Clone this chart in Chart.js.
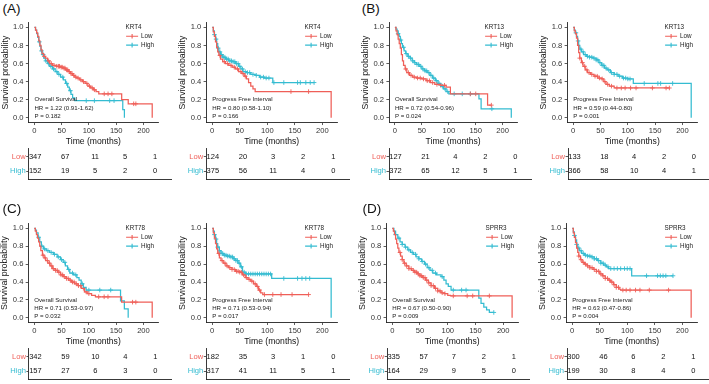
<!DOCTYPE html>
<html><head><meta charset="utf-8">
<script src="https://cdn.jsdelivr.net/npm/chart.js@4/dist/chart.umd.min.js"></script>
<style>
html,body{margin:0;padding:0;background:#fff;}
#wrap{position:relative;width:709px;height:384px;overflow:hidden;background:#fff;}
canvas{position:absolute;}
.lab{position:absolute;font-family:'Liberation Sans',Arial,sans-serif;font-size:13.5px;color:#111;line-height:1;white-space:nowrap;}
</style></head><body><div id="wrap"></div>
<script>
const FONT = "'Liberation Sans', Arial, sans-serif";
const RED = '#EF5F58', CYAN = '#34BCD1';

// ---------- shared axis / label data ----------
const timeTicks = [0, 50, 100, 150, 200];
const probTicks = [0, 0.2, 0.4, 0.6, 0.8, 1.0];
const groups = ['Low', 'High'];
const genes = ['KRT4', 'KRT13', 'KRT78', 'SPRR3'];
const letters = ['(A)', '(B)', '(C)', '(D)'];
const endpoints = ['Overall Survival', 'Progress Free Interval'];

// ---------- KM curves: [time (months), survival] at each step ----------
const A_OS_low = [[0,1],[2,0.97],[4,0.94],[6,0.9],[8,0.85],[10,0.8],[12,0.75],[14,0.71],[17,0.68],[20,0.66],[24,0.63],[28,0.6],[33,0.58],[40,0.57],[47,0.56],[52,0.55],[57,0.53],[62,0.51],[66,0.49],[70,0.47],[74,0.45],[78,0.44],[83,0.42],[88,0.4],[93,0.38],[98,0.35],[103,0.33],[108,0.31],[113,0.29],[118,0.265],[160,0.2],[172,0.155],[216,0]];
const A_OS_high = [[0,1],[2,0.97],[4,0.93],[6,0.89],[8,0.84],[10,0.79],[12,0.74],[14,0.7],[17,0.66],[20,0.63],[24,0.6],[28,0.57],[33,0.54],[38,0.51],[43,0.48],[48,0.45],[53,0.42],[57,0.38],[61,0.34],[64,0.3],[67,0.26],[70,0.22],[74,0.19],[162,0.09],[165,0]];
const A_PFI_low = [[0,1],[2,0.95],[4,0.9],[6,0.84],[8,0.78],[10,0.73],[12,0.69],[15,0.65],[19,0.62],[24,0.6],[30,0.58],[36,0.56],[42,0.54],[48,0.51],[54,0.49],[58,0.46],[62,0.43],[66,0.39],[70,0.35],[74,0.32],[78,0.29],[216,0]];
const A_PFI_high = [[0,1],[2,0.96],[4,0.92],[6,0.87],[8,0.82],[10,0.77],[12,0.73],[15,0.7],[19,0.67],[24,0.65],[30,0.63],[36,0.62],[42,0.6],[48,0.57],[52,0.54],[56,0.51],[62,0.5],[70,0.48],[78,0.47],[86,0.45],[95,0.44],[110,0.39],[185,0.39]];
const B_OS_low = [[0,1],[2,0.96],[4,0.92],[6,0.87],[8,0.82],[10,0.77],[12,0.7],[14,0.63],[16,0.58],[19,0.54],[22,0.5],[27,0.47],[33,0.45],[40,0.44],[50,0.43],[58,0.41],[66,0.39],[74,0.37],[85,0.36],[95,0.34],[103,0.265],[172,0.14],[179,0.14]];
const B_OS_high = [[0,1],[2,0.98],[4,0.96],[6,0.93],[8,0.9],[10,0.86],[12,0.82],[14,0.78],[17,0.74],[20,0.71],[24,0.68],[28,0.66],[32,0.63],[36,0.61],[40,0.59],[45,0.57],[50,0.54],[55,0.52],[60,0.5],[65,0.47],[70,0.44],[75,0.41],[80,0.38],[85,0.35],[90,0.32],[95,0.29],[100,0.265],[156,0.21],[160,0.1],[216,0]];
const B_PFI_low = [[0,1],[2,0.96],[4,0.93],[6,0.88],[8,0.8],[10,0.72],[12,0.66],[15,0.61],[18,0.57],[22,0.53],[26,0.5],[32,0.48],[38,0.46],[45,0.44],[52,0.43],[56,0.4],[60,0.37],[66,0.35],[75,0.33],[176,0.33]];
const B_PFI_high = [[0,1],[2,0.97],[4,0.94],[6,0.9],[8,0.85],[10,0.8],[12,0.76],[15,0.73],[19,0.7],[24,0.68],[30,0.67],[36,0.66],[42,0.64],[47,0.61],[52,0.58],[57,0.55],[62,0.53],[68,0.5],[75,0.48],[82,0.46],[90,0.44],[100,0.43],[110,0.38],[216,0]];
const C_OS_low = [[0,1],[2,0.97],[4,0.93],[6,0.89],[8,0.85],[10,0.8],[12,0.75],[15,0.7],[18,0.67],[21,0.64],[25,0.61],[29,0.58],[33,0.55],[38,0.53],[43,0.51],[48,0.48],[53,0.46],[58,0.44],[63,0.42],[68,0.4],[74,0.38],[80,0.36],[86,0.33],[92,0.29],[97,0.27],[105,0.25],[112,0.235],[160,0.175],[216,0]];
const C_OS_high = [[0,1],[2,0.98],[4,0.95],[7,0.9],[10,0.85],[13,0.8],[17,0.77],[22,0.75],[28,0.73],[35,0.71],[42,0.68],[48,0.65],[53,0.62],[57,0.58],[61,0.54],[65,0.5],[72,0.48],[78,0.45],[82,0.42],[86,0.38],[90,0.34],[95,0.31],[158,0.19],[165,0.1],[172,0]];
const C_PFI_low = [[0,1],[2,0.95],[4,0.89],[6,0.83],[8,0.77],[10,0.72],[13,0.67],[16,0.64],[20,0.61],[25,0.58],[30,0.56],[36,0.54],[42,0.52],[50,0.51],[55,0.48],[60,0.45],[65,0.43],[70,0.41],[75,0.38],[80,0.35],[84,0.31],[88,0.28],[92,0.26],[175,0.26]];
const C_PFI_high = [[0,1],[2,0.97],[4,0.93],[6,0.88],[8,0.83],[10,0.79],[13,0.75],[16,0.72],[20,0.7],[26,0.69],[32,0.68],[38,0.66],[43,0.64],[47,0.61],[51,0.57],[55,0.51],[60,0.49],[108,0.44],[216,0]];
const D_OS_low = [[0,1],[2,0.97],[4,0.93],[6,0.88],[8,0.83],[10,0.78],[12,0.73],[15,0.69],[18,0.65],[21,0.61],[25,0.58],[30,0.55],[35,0.53],[40,0.51],[45,0.49],[50,0.47],[55,0.45],[60,0.42],[65,0.39],[70,0.36],[76,0.33],[82,0.3],[88,0.28],[94,0.27],[100,0.25],[105,0.245],[216,0]];
const D_OS_high = [[0,1],[3,0.97],[6,0.93],[10,0.89],[14,0.85],[18,0.82],[23,0.79],[28,0.76],[33,0.73],[38,0.71],[43,0.68],[48,0.66],[53,0.63],[58,0.6],[63,0.56],[68,0.53],[73,0.5],[80,0.48],[88,0.46],[93,0.42],[97,0.38],[101,0.35],[106,0.31],[156,0.22],[160,0.16],[165,0.12],[170,0.09],[175,0.06],[183,0.06]];
const D_PFI_low = [[0,1],[2,0.95],[4,0.9],[6,0.84],[8,0.78],[10,0.73],[12,0.69],[15,0.65],[18,0.62],[22,0.6],[27,0.58],[32,0.56],[38,0.54],[44,0.52],[50,0.49],[55,0.47],[60,0.44],[65,0.42],[70,0.4],[75,0.37],[80,0.34],[85,0.32],[88,0.31],[216,0]];
const D_PFI_high = [[0,1],[2,0.96],[4,0.92],[6,0.87],[8,0.82],[10,0.78],[13,0.75],[17,0.72],[22,0.7],[28,0.69],[34,0.68],[40,0.66],[46,0.64],[52,0.61],[57,0.59],[62,0.57],[66,0.55],[108,0.47],[183,0.47]];

// ---------- censoring times (months) ----------
const A_OS_lowCens = [18,26,31,36,41,44,46,49,51,54,56,59,61,64,67,69,72,76,80,85,90,96,101,106,110,128,135,142,182,186];
const A_OS_highCens = [9,13,16,21,26,30,35,41,45,52,59,66,95,110,138,146];
const A_PFI_lowCens = [14,22,28,34,40,46,52,56,60,143,175];
const A_PFI_highCens = [4,7,11,14,17,20,23,26,29,32,35,38,41,44,47,50,55,60,64,68,74,80,88,93,98,103,112,130,155,160,170,178,185];
const B_OS_lowCens = [20,25,30,36,42,47,53,60,64,70,78,85,92,140,150,179];
const B_OS_highCens = [6,11,16,21,25,29,33,37,41,44,48,52,56,59,63,67,72,77,82,88,93,98,110,125,140,180];
const B_PFI_lowCens = [12,17,21,25,29,34,40,44,48,53,58,63,70,80,88,95,105,115,145,170,176];
const B_PFI_highCens = [5,9,14,18,22,26,30,34,38,42,45,49,53,56,60,65,70,75,80,85,92,96,100,104,130,155,160,182];
const C_OS_lowCens = [16,20,24,28,32,35,39,42,45,49,52,55,59,62,66,70,73,77,81,85,90,95,100,118,128,135,180,186];
const C_OS_highCens = [8,14,19,25,31,37,44,50,56,63,70,76,88,100,120,140];
const C_PFI_lowCens = [12,18,23,27,32,36,40,44,47,50,53,57,62,67,72,78,82,86,95,110,125,145,175];
const C_PFI_highCens = [4,7,10,13,16,19,22,25,28,31,34,37,40,43,46,49,53,58,62,66,70,74,78,82,86,90,94,98,102,106,130,155,163,170,177];
const D_OS_lowCens = [14,18,22,26,30,34,38,41,44,47,50,53,56,59,62,66,70,74,78,82,86,90,95,110,135,145,175];
const D_OS_highCens = [6,12,18,24,30,36,42,48,54,60,66,72,78,90,110,125,133,183];
const D_PFI_lowCens = [12,16,20,24,28,32,36,40,44,48,52,56,60,64,68,72,76,80,84,92,98,105,115,123,140,175];
const D_PFI_highCens = [4,8,12,16,20,24,28,32,36,40,44,48,52,56,60,65,70,76,82,88,95,100,105,135,155,160,165,170,183];

// ---------- number at risk (at timeTicks) ----------
const A_OS_lowRisk = [347,67,11,5,1],  A_OS_highRisk = [152,19,5,2,0];
const A_PFI_lowRisk = [124,20,3,2,1],  A_PFI_highRisk = [375,56,11,4,0];
const B_OS_lowRisk = [127,21,4,2,0],   B_OS_highRisk = [372,65,12,5,1];
const B_PFI_lowRisk = [133,18,4,2,0],  B_PFI_highRisk = [366,58,10,4,1];
const C_OS_lowRisk = [342,59,10,4,1],  C_OS_highRisk = [157,27,6,3,0];
const C_PFI_lowRisk = [182,35,3,1,0],  C_PFI_highRisk = [317,41,11,5,1];
const D_OS_lowRisk = [335,57,7,2,1],   D_OS_highRisk = [164,29,9,5,0];
const D_PFI_lowRisk = [300,46,6,2,1],  D_PFI_highRisk = [199,30,8,4,0];

// ---------- statistics ----------
const hrText = ['HR = 1.22 (0.91-1.62)','HR = 0.80 (0.58-1.10)','HR = 0.72 (0.54-0.96)','HR = 0.59 (0.44-0.80)',
                'HR = 0.71 (0.53-0.97)','HR = 0.71 (0.53-0.94)','HR = 0.67 (0.50-0.90)','HR = 0.63 (0.47-0.86)'];
const pText = ['P = 0.182','P = 0.166','P = 0.024','P = 0.001','P = 0.032','P = 0.017','P = 0.009','P = 0.004'];

const panelData = [
  {gene:0, ep:0, low:A_OS_low, high:A_OS_high, lowC:A_OS_lowCens, highC:A_OS_highCens, lowR:A_OS_lowRisk, highR:A_OS_highRisk},
  {gene:0, ep:1, low:A_PFI_low, high:A_PFI_high, lowC:A_PFI_lowCens, highC:A_PFI_highCens, lowR:A_PFI_lowRisk, highR:A_PFI_highRisk},
  {gene:1, ep:0, low:B_OS_low, high:B_OS_high, lowC:B_OS_lowCens, highC:B_OS_highCens, lowR:B_OS_lowRisk, highR:B_OS_highRisk},
  {gene:1, ep:1, low:B_PFI_low, high:B_PFI_high, lowC:B_PFI_lowCens, highC:B_PFI_highCens, lowR:B_PFI_lowRisk, highR:B_PFI_highRisk},
  {gene:2, ep:0, low:C_OS_low, high:C_OS_high, lowC:C_OS_lowCens, highC:C_OS_highCens, lowR:C_OS_lowRisk, highR:C_OS_highRisk},
  {gene:2, ep:1, low:C_PFI_low, high:C_PFI_high, lowC:C_PFI_lowCens, highC:C_PFI_highCens, lowR:C_PFI_lowRisk, highR:C_PFI_highRisk},
  {gene:3, ep:0, low:D_OS_low, high:D_OS_high, lowC:D_OS_lowCens, highC:D_OS_highCens, lowR:D_OS_lowRisk, highR:D_OS_highRisk},
  {gene:3, ep:1, low:D_PFI_low, high:D_PFI_high, lowC:D_PFI_lowCens, highC:D_PFI_highCens, lowR:D_PFI_lowRisk, highR:D_PFI_highRisk}
];

// ---------- layout (page pixels) ----------
const layout = [
  {x0:34.5, x200:144.5, y1:25,  y0:117.7, tx0:35.2,  tx200:155,   tTop:146.7, tBot:182.7},
  {x0:212.3,x200:324,   y1:25,  y0:117.7, tx0:212.8, tx200:333.3, tTop:146.7, tBot:182.7},
  {x0:395,  x200:504.3, y1:25,  y0:117.7, tx0:395.5, tx200:515.3, tTop:146.7, tBot:182.7},
  {x0:573.3,x200:684,   y1:25,  y0:117.7, tx0:574.5, tx200:693.8, tTop:146.7, tBot:182.7},
  {x0:34.3, x200:144.3, y1:226, y0:317.7, tx0:35.4,  tx200:155.3, tTop:346.5, tBot:382.5},
  {x0:212.3,x200:324,   y1:226, y0:317.7, tx0:212.8, tx200:333.3, tTop:346.5, tBot:382.5},
  {x0:392.3,x200:504.3, y1:226, y0:317.7, tx0:393.7, tx200:513.8, tTop:346.5, tBot:382.5},
  {x0:572.3,x200:684,   y1:226, y0:317.7, tx0:573.5, tx200:693.3, tTop:346.5, tBot:382.5}
];
const letterPos = [[2.5,1.8],[361.8,1.8],[2.5,202.3],[362.5,202.3]];
const X_MIN = -10.8, X_MAX = 226.8;

const wrap = document.getElementById('wrap');
function place(x, y, w, h) {
  const c = document.createElement('canvas');
  c.width = w; c.height = h;
  c.style.left = x + 'px'; c.style.top = y + 'px';
  c.style.width = w + 'px'; c.style.height = h + 'px';
  wrap.appendChild(c);
  return c;
}
function survAt(curve, t) {
  let s = curve[0][1];
  for (const [tt, ss] of curve) { if (tt <= t) s = ss; else break; }
  return s;
}

const legendPlugin = {
  id: 'kmLegend',
  afterDraw(chart, args, opts) {
    const {ctx, chartArea: a} = chart;
    const x = a.right - 32.5;
    ctx.save();
    ctx.font = '6.3px ' + FONT;
    ctx.textBaseline = 'middle';
    ctx.textAlign = 'left';
    ctx.fillStyle = '#222';
    ctx.fillText(opts.title, x, a.top + 4.6);
    for (let i = 0; i < 2; i++) {
      const ds = chart.data.datasets[i];
      const y = a.top + 13.4 + 8.9 * i;
      ctx.strokeStyle = ds.borderColor; ctx.lineWidth = 1.1;
      ctx.beginPath(); ctx.moveTo(x + 0.5, y); ctx.lineTo(x + 12.5, y);
      ctx.moveTo(x + 6.5, y - 2.3); ctx.lineTo(x + 6.5, y + 2.3); ctx.stroke();
      ctx.fillStyle = '#222';
      ctx.fillText(ds.label, x + 15.5, y);
    }
    ctx.restore();
  }
};
const notePlugin = {
  id: 'kmNote',
  afterDraw(chart, args, opts) {
    const {ctx, scales: {x, y}} = chart;
    ctx.save();
    ctx.font = '6.1px ' + FONT;
    ctx.textBaseline = 'middle'; ctx.textAlign = 'left'; ctx.fillStyle = '#222';
    const px = x.getPixelForValue(0);
    opts.lines.forEach((t, i) => ctx.fillText(t, px, y.getPixelForValue(opts.at[i])));
    ctx.restore();
  }
};
const riskPlugin = {
  id: 'riskNums',
  afterDatasetsDraw(chart, args, opts) {
    const {ctx} = chart;
    ctx.save();
    ctx.font = '7.5px ' + FONT;
    ctx.textBaseline = 'middle'; ctx.textAlign = 'center'; ctx.fillStyle = '#111';
    chart.data.datasets.forEach((ds, i) => {
      chart.getDatasetMeta(i).data.forEach((pt, j) => ctx.fillText(String(opts.values[i][j]), pt.x, pt.y));
    });
    ctx.restore();
  }
};

const YW = 28.6, XH = 24.7;
panelData.forEach((pd, idx) => {
  const g = layout[idx];
  // ---- main KM plot ----
  const k = (g.x200 - g.x0) / 200, m = g.y0 - g.y1;
  const L = g.x0 + X_MIN * k, R = g.x0 + X_MAX * k, T = g.y1 - 0.05 * m, B = g.y0 + 0.05 * m;
  const cx = Math.floor(L - YW), cy = Math.floor(T - 4);
  const cw = Math.ceil(R + 3) - cx, ch = Math.ceil(B + XH + 1) - cy;
  const cv = place(cx, cy, cw, ch);
  const mk = (arr) => arr.map(([x, y]) => ({x, y}));
  const cens = (times, curve) => times.map(t => ({x: t, y: survAt(curve, t)}));
  new Chart(cv, {
    type: 'line',
    data: {datasets: [
      {label: groups[0], data: mk(pd.low), borderColor: RED, borderWidth: 1.25, stepped: true, pointRadius: 0, fill: false},
      {label: groups[1], data: mk(pd.high), borderColor: CYAN, borderWidth: 1.25, stepped: true, pointRadius: 0, fill: false},
      {label: groups[0] + ' censored', data: cens(pd.lowC, pd.low), showLine: false, pointStyle: 'cross', pointRadius: 2.3, pointBorderColor: RED, pointBorderWidth: 0.9, borderColor: RED},
      {label: groups[1] + ' censored', data: cens(pd.highC, pd.high), showLine: false, pointStyle: 'cross', pointRadius: 2.3, pointBorderColor: CYAN, pointBorderWidth: 0.9, borderColor: CYAN}
    ]},
    options: {
      responsive: false, animation: false, devicePixelRatio: 1,
      events: [],
      layout: {padding: {left: L - YW - cx, top: T - cy, right: cx + cw - R, bottom: cy + ch - (B + XH)}},
      plugins: {
        legend: {display: false}, tooltip: {enabled: false},
        kmLegend: {title: genes[pd.gene]},
        kmNote: {lines: [endpoints[pd.ep], hrText[idx], pText[idx]], at: [0.2, 0.11, 0.02]}
      },
      scales: {
        x: {
          type: 'linear', min: X_MIN, max: X_MAX,
          afterBuildTicks: s => { s.ticks = timeTicks.map(v => ({value: v})); },
          afterFit: s => { s.height = XH; },
          grid: {display: true, drawOnChartArea: false, drawTicks: true, tickLength: 2.7, color: '#333', lineWidth: 0.8},
          border: {display: true, color: '#222', width: 0.9},
          ticks: {font: {size: 7.6, family: FONT}, color: '#333', padding: 1, maxRotation: 0, autoSkip: false},
          title: {display: true, text: 'Time (months)', font: {size: 8.6, family: FONT}, color: '#111', padding: 0}
        },
        y: {
          type: 'linear', min: -0.05, max: 1.05,
          afterBuildTicks: s => { s.ticks = probTicks.map(v => ({value: v})); },
          afterFit: s => { s.width = YW; },
          grid: {display: true, drawOnChartArea: false, drawTicks: true, tickLength: 2.7, color: '#333', lineWidth: 0.8},
          border: {display: true, color: '#222', width: 0.9},
          ticks: {font: {size: 7.6, family: FONT}, color: '#333', padding: 2.3, callback: v => Number(v).toFixed(1)},
          title: {display: true, text: 'Survival probability', font: {size: 8.8, family: FONT}, color: '#111', padding: 0}
        }
      }
    },
    plugins: [legendPlugin, notePlugin]
  });

  // ---- number-at-risk table ----
  const tk = (g.tx200 - g.tx0) / 200;
  const TL = g.tx0 + X_MIN * tk, TR = g.tx0 + X_MAX * tk;
  const TW = 30;
  const tx = Math.floor(TL - TW), ty = Math.floor(g.tTop - 3);
  const tw = Math.min(Math.ceil(TR + 2), 711) - tx, th = Math.ceil(g.tBot + 2) - ty;
  const tv = place(tx, ty, tw, th);
  new Chart(tv, {
    type: 'scatter',
    data: {datasets: [
      {label: groups[0], data: timeTicks.map(t => ({x: t, y: 1})), pointRadius: 0},
      {label: groups[1], data: timeTicks.map(t => ({x: t, y: 2})), pointRadius: 0}
    ]},
    options: {
      responsive: false, animation: false, devicePixelRatio: 1, events: [],
      layout: {padding: {left: TL - TW - tx, top: g.tTop - ty, right: Math.max(0, tx + tw - TR), bottom: ty + th - g.tBot}},
      plugins: {legend: {display: false}, tooltip: {enabled: false}, riskNums: {values: [pd.lowR, pd.highR]}},
      scales: {
        x: {type: 'linear', min: X_MIN, max: X_MAX, afterFit: s => { s.height = 0; },
            ticks: {display: false}, grid: {display: false}, border: {display: true, color: '#222', width: 0.9}},
        y: {type: 'linear', min: 0.4, max: 2.6, reverse: true,
            afterBuildTicks: s => { s.ticks = [1, 2].map(v => ({value: v})); },
            afterFit: s => { s.width = TW; },
            grid: {display: true, drawOnChartArea: false, drawTicks: true, tickLength: 2.5, color: '#333', lineWidth: 0.8},
            border: {display: true, color: '#222', width: 0.9},
            ticks: {font: {size: 7.6, family: FONT}, padding: 0.5, callback: v => groups[v - 1],
                    color: c => (c.index === 0 ? RED : CYAN)}}
      }
    },
    plugins: [riskPlugin]
  });
});

letters.forEach((t, i) => {
  const d = document.createElement('div');
  d.className = 'lab'; d.textContent = t;
  d.style.left = letterPos[i][0] + 'px'; d.style.top = letterPos[i][1] + 'px';
  wrap.appendChild(d);
});
</script></body></html>
